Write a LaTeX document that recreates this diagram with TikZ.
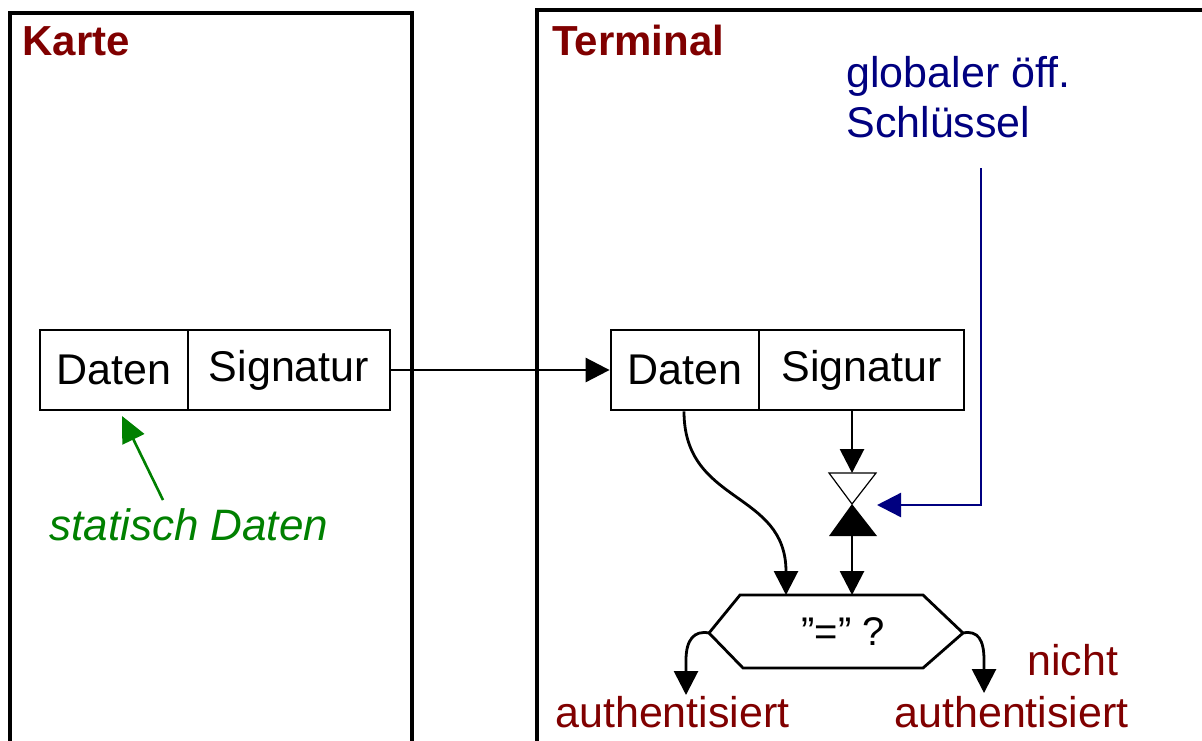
\documentclass[tikz,border=0pt]{standalone}
\usepackage{fontspec}
\setmainfont{Liberation Sans}
\usetikzlibrary{arrows.meta}
\definecolor{maroon}{HTML}{800000}
\definecolor{navyblue}{HTML}{000080}
\definecolor{leafgreen}{HTML}{008000}
\newcommand\lblfont{\fontsize{21.5pt}{25pt}\selectfont}
\newcommand\titlefont{\fontsize{21pt}{25pt}\selectfont\bfseries}
\begin{document}
\begin{tikzpicture}[x=0.5pt,y=-0.5pt,
  frame/.style={line width=1.6pt},
  cell/.style={draw,line width=1.4pt,minimum height=40pt,inner sep=0pt,font=\lblfont},
  flow/.style={line width=1.4pt,-{Triangle[length=12pt,width=12pt]}},
  title/.style={anchor=base west,inner sep=0pt,text=maroon,font=\titlefont},
  result/.style={anchor=base west,inner sep=0pt,text=maroon,font=\lblfont},
]
\useasboundingbox (0,0) rectangle (1202,740);

% the two parties
\draw[frame] (10,742) |- (412,13) -- (412,742);
\draw[frame] (537,742) |- (1206,10);
\node[title] (karte) at (22,55) {Karte};
\node[title] (terminal) at (552,55) {Terminal};

% card record
\node[cell,minimum width=74pt] (cdat) at (114,370) {Daten};
\node[cell,minimum width=101pt] (csig) at (289,370) {Signatur};

% terminal record
\node[cell,minimum width=74pt] (tdat) at (685,370) {Daten};
\node[cell,minimum width=102.5pt] (tsig) at (861.5,370) {Signatur};

% transfer of the record
\draw[flow] (csig.east) -- (tdat.west);

% static data label
\begin{scope}
  \clip (40,480) rectangle (325,560);
  \node[anchor=base west,inner sep=0pt,text=leafgreen,font=\fontsize{22pt}{26pt}\selectfont\itshape] (stat) at (49,540) {statisch Daten};
\end{scope}
\coordinate (statfoot) at (163,500);
\draw[line width=1.3pt,leafgreen,-{Triangle[length=13pt,width=12pt]}] (statfoot) -- (122,416);

% public key
\node[anchor=north west,inner sep=0pt,align=left,text=navyblue,font=\fontsize{21.5pt}{25pt}\selectfont] (key) at (846,56) {globaler öff.\\Schlüssel};
\coordinate (keyfoot) at (981,168);

% verification valve
\coordinate (vtop) at (852,473);
\coordinate (vapex) at (852,504);
\coordinate (vbot) at (852,536);
\coordinate (vright) at (877,505);
\draw[line width=0.6pt] (829,473) -- (876,473) -- (vapex) -- cycle;
\fill (vapex) -- (877,536) -- (829,536) -- cycle;

\draw[flow] (tsig.south -| vtop) -- (vtop);
\draw[flow,navyblue,line width=1.2pt] (keyfoot) |- (vright);

% comparison
\coordinate (hexL) at (709,633);
\coordinate (hexR) at (963,633);
\coordinate (in1) at (786,595);
\coordinate (in2) at (852,595);
\draw[line width=1.4pt,line join=miter] (740,595) -- (923,595) -- (hexR) -- (923,668) -- (743,668) -- (hexL) -- cycle;
\node[font=\fontsize{20pt}{24pt}\selectfont,inner sep=0pt] (cmp) at (843,632) {”=” ?};

\draw[flow] (vbot) -- (in2);
\draw[flow] (tdat.south -| 684,0) .. controls (684,505) and (786,490) .. (in1);

% outcomes
\coordinate (oktip) at (686,695);
\coordinate (notip) at (984,693);
\draw[flow] (hexL) .. controls (694,630) and (686,640) .. (686,660) -- (oktip);
\draw[flow] (hexR) .. controls (978,630) and (984,640) .. (984,660) -- (notip);
\node[result] (ok) at (555,727) {authentisiert};
\node[result] (nicht) at (1027,675) {nicht};
\node[result] (nok) at (894,727) {authentisiert};
\end{tikzpicture}
\end{document}
